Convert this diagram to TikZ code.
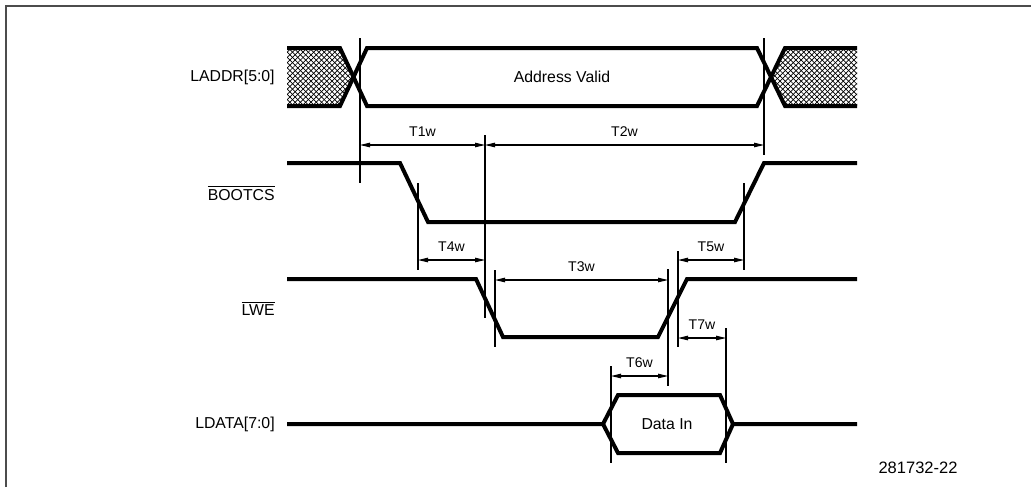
\documentclass[tikz,border=0pt]{standalone}
\usepackage{fontspec}
\setmainfont{Liberation Sans}
\usepackage{tikz}
\usetikzlibrary{arrows.meta,patterns}

\begin{document}
\begin{tikzpicture}[
    x=0.02cm, y=-0.02cm,
    sig/.style={line width=0.08cm},
    guide/.style={line width=0.6pt},
    dim/.style={line width=0.6pt, {Triangle[length=0.2cm,width=0.09cm]}-{Triangle[length=0.2cm,width=0.09cm]}},
    lbl/.style={anchor=east, inner sep=0pt, font=\fontsize{9}{11}\selectfont},
    tlbl/.style={above=2pt, inner sep=2.7pt, font=\fontsize{8}{10}\selectfont},
    hatch/.style={pattern=north east lines}
]
\useasboundingbox (0,0) rectangle (1031,487);
\draw[line width=1pt, black!70] (6,487) -- (6,6) -- (1031,6);

% signal names
\node[lbl] (laddr) at (275,77) {LADDR[5:0]};
\node[lbl] (bootcs) at (275,193) {$\overline{\hbox{BOOTCS}}$};
\node[lbl] (lwe) at (275,308) {$\overline{\hbox{LWE}}$};
\node[lbl] (ldata) at (275,424) {LDATA[7:0]};

% LADDR
\fill[pattern=north east lines] (287,48) -- (340,48) -- (353.5,77) -- (340,106) -- (287,106) -- cycle;
\fill[pattern=north west lines] (287,48) -- (340,48) -- (353.5,77) -- (340,106) -- (287,106) -- cycle;
\fill[pattern=north east lines] (771,77) -- (785,48) -- (857,48) -- (857,106) -- (785,106) -- cycle;
\fill[pattern=north west lines] (771,77) -- (785,48) -- (857,48) -- (857,106) -- (785,106) -- cycle;
\draw[sig] (287,48) -- (340,48) -- (367,106) -- (757,106) -- (785,48) -- (857,48);
\draw[sig] (287,106) -- (340,106) -- (367,48) -- (757,48) -- (785,106) -- (857,106);
\node[font=\fontsize{9}{11}\selectfont] (addr) at (562,77) {Address Valid};

% BOOTCS, LWE
\draw[sig] (287,163) -- (400,163) -- (428,222) -- (735,222) -- (764,163) -- (857,163);
\draw[sig] (287,279) -- (476,279) -- (503,337) -- (658,337) -- (687,279) -- (857,279);

% LDATA
\draw[sig] (287,424) -- (603,424) -- (618,395) -- (720,395) -- (733,424) -- (857,424);
\draw[sig] (603,424) -- (618,453) -- (720,453) -- (733,424);
\node[font=\fontsize{9}{11}\selectfont] (din) at (667,424) {Data In};

% guide lines
\foreach \n/\x/\ya/\yb in {a/360/38/183, b/485/135/318, c/764/38/155, d/744/183/270,
    e/418/183/270, f/495/270/347, g/668/269/386, h/678/251/347, i/611/366/463, j/726/328/463}
  \draw[guide] (\x,\ya) coordinate (\n top) -- (\x,\yb) coordinate (\n bot);

% timings
\coordinate (t1a) at (360,145); \coordinate (t1b) at (485,145);
\coordinate (t2b) at (764,145);
\coordinate (t4a) at (418,260); \coordinate (t4b) at (485,260);
\coordinate (t3a) at (495,280); \coordinate (t3b) at (668,280);
\coordinate (t5a) at (678,260); \coordinate (t5b) at (744,260);
\coordinate (t7a) at (678,338); \coordinate (t7b) at (726,338);
\coordinate (t6a) at (611,376); \coordinate (t6b) at (668,376);
\draw[dim] (t1a) -- node[tlbl] {T1w} (t1b);
\draw[dim] (t1b) -- node[tlbl] {T2w} (t2b);
\draw[dim] (t4a) -- node[tlbl] {T4w} (t4b);
\draw[dim] (t3a) -- node[tlbl] {T3w} (t3b);
\draw[dim] (t5a) -- node[tlbl] {T5w} (t5b);
\draw[dim] (t7a) -- node[tlbl] {T7w} (t7b);
\draw[dim] (t6a) -- node[tlbl] {T6w} (t6b);

\node[font=\fontsize{9.4}{11}\selectfont] (fig) at (918,468) {281732-22};
\end{tikzpicture}
\end{document}
